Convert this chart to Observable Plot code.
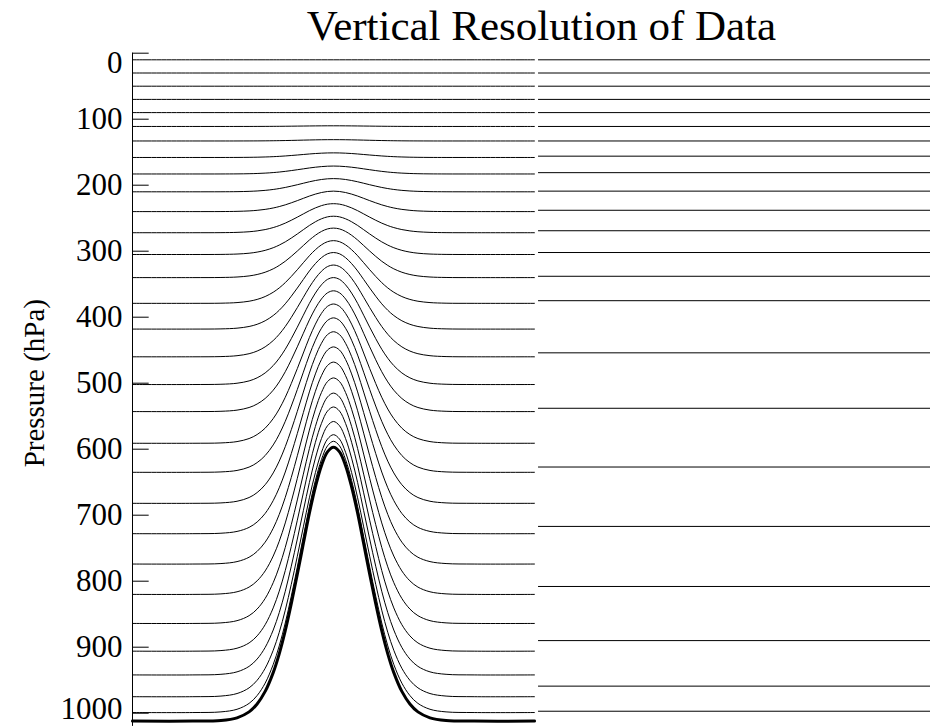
<!DOCTYPE html>
<html>
<head>
<meta charset="utf-8">
<script src="https://cdn.jsdelivr.net/npm/d3@7"></script>
<script src="https://cdn.jsdelivr.net/npm/@observablehq/plot@0.6"></script>
<style>
  html, body { margin: 0; padding: 0; background: #fff; }
  #title { width: 930px; height: 46px; box-sizing: border-box; padding-top: 5px; padding-left: 153px;
           text-align: center; font-family: "Liberation Serif", "DejaVu Serif", serif; font-size: 43px;
           line-height: 41px; color: #000; white-space: nowrap; overflow: visible; }
</style>
</head>
<body>
<div id="title">Vertical Resolution of Data</div>
<div id="chart"></div>
<script>
// Model (terrain-following) levels: pressure (hPa) over flat ground and over the summit
const levelFlat = [10, 30, 50, 70, 90, 111, 133, 158, 183, 210, 240, 272, 305, 340, 379, 418, 460, 502, 543, 591, 635, 682, 728, 774, 820, 864, 906, 942, 975, 999];
const levelPeak = [10, 30, 50, 70, 90, 110, 131, 151, 171, 190, 209, 228, 247, 265, 284, 302, 321, 340, 360, 380, 401, 422, 445, 468, 492, 515, 536, 558, 578, 588];
// Surface pressure over flat ground and at the summit
const surfaceFlat = 1012;
const surfacePeak = 597;
// Terrain profile (position, surface pressure hPa)
const terrainX = [0, 15, 22, 26, 29, 31, 33, 35, 36.5, 38, 39.5, 41, 42.5, 44, 45.5, 47, 48.5, 50, 51.5, 53, 54.5, 56, 57.5, 59, 60.5, 62, 63.5, 65, 67, 69, 71, 74, 78, 85, 100];
const terrainP = [1012, 1012, 1011, 1007, 998, 986, 967, 938.5, 910, 875, 834, 789.5, 743, 697, 657, 625, 604, 597, 604, 625, 657, 697, 743, 789.5, 834, 875, 910, 938.5, 967, 986, 998, 1007, 1011, 1012, 1012];
// Data (pressure) levels shown in the right panel
const dataLevels = [10, 30, 50, 70, 90, 111, 133, 156, 181, 209, 238, 269, 302, 338, 375, 454, 538, 627, 717, 808, 890, 959, 997];
// Y-axis tick values
const yTicks = [0, 100, 200, 300, 400, 500, 600, 700, 800, 900, 1000];

// Build line points: each model level follows p = flat - (flat - peak) * terrain fraction
const depth = surfaceFlat - surfacePeak;
const levelPts = [];
levelFlat.forEach((f, i) => {
  terrainX.forEach((x, j) => {
    const frac = (surfaceFlat - terrainP[j]) / depth;
    levelPts.push({level: i, x, p: f - (f - levelPeak[i]) * frac});
  });
});
const surfacePts = terrainX.map((x, j) => ({x, p: terrainP[j]}));

const chart = Plot.plot({
  width: 930,
  height: 681,
  marginLeft: 132,
  marginRight: 0,
  marginTop: 0,
  marginBottom: 0,
  style: {fontFamily: "Liberation Serif, DejaVu Serif, serif", fontSize: "31px", background: "#fff", color: "#000", overflow: "visible"},
  x: {domain: [0, 198.5], axis: null},
  y: {domain: [0, 1000], range: [6.7, 666.7], axis: null},
  marks: [
    Plot.ruleX([0], {y1: 0, y2: 1020, stroke: "#000", strokeWidth: 1}),
    Plot.ruleY(yTicks, {y: d => d, x1: 0, x2: 4.15, stroke: "#000", strokeWidth: 1}),
    Plot.text(yTicks.filter(d => d !== 0 && d !== 1000), {y: d => d, x: 0, text: d => String(d), dx: -10, textAnchor: "end", fontSize: 31, fill: "#000"}),
    Plot.text(yTicks.filter(d => d === 0), {y: d => d, x: 0, text: d => String(d), dx: -10, dy: 10, textAnchor: "end", fontSize: 31, fill: "#000"}),
    Plot.text(yTicks.filter(d => d === 1000), {y: d => d, x: 0, text: d => String(d), dx: -10, dy: -4, textAnchor: "end", fontSize: 31, fill: "#000"}),
    Plot.text(["Pressure (hPa)"], {x: -24.4, y: 500, text: d => d, rotate: -90, fontSize: 29, fill: "#000"}),
    Plot.line(levelPts, {x: "x", y: "p", z: "level", curve: "catmull-rom", stroke: "#000", strokeWidth: 1}),
    Plot.line(surfacePts, {x: "x", y: "p", curve: "catmull-rom", stroke: "#000", strokeWidth: 3}),
    Plot.ruleY(dataLevels, {y: d => d, x1: 101, x2: 198.5, stroke: "#000", strokeWidth: 1})
  ]
});
document.getElementById("chart").appendChild(chart);
</script>
</body>
</html>
